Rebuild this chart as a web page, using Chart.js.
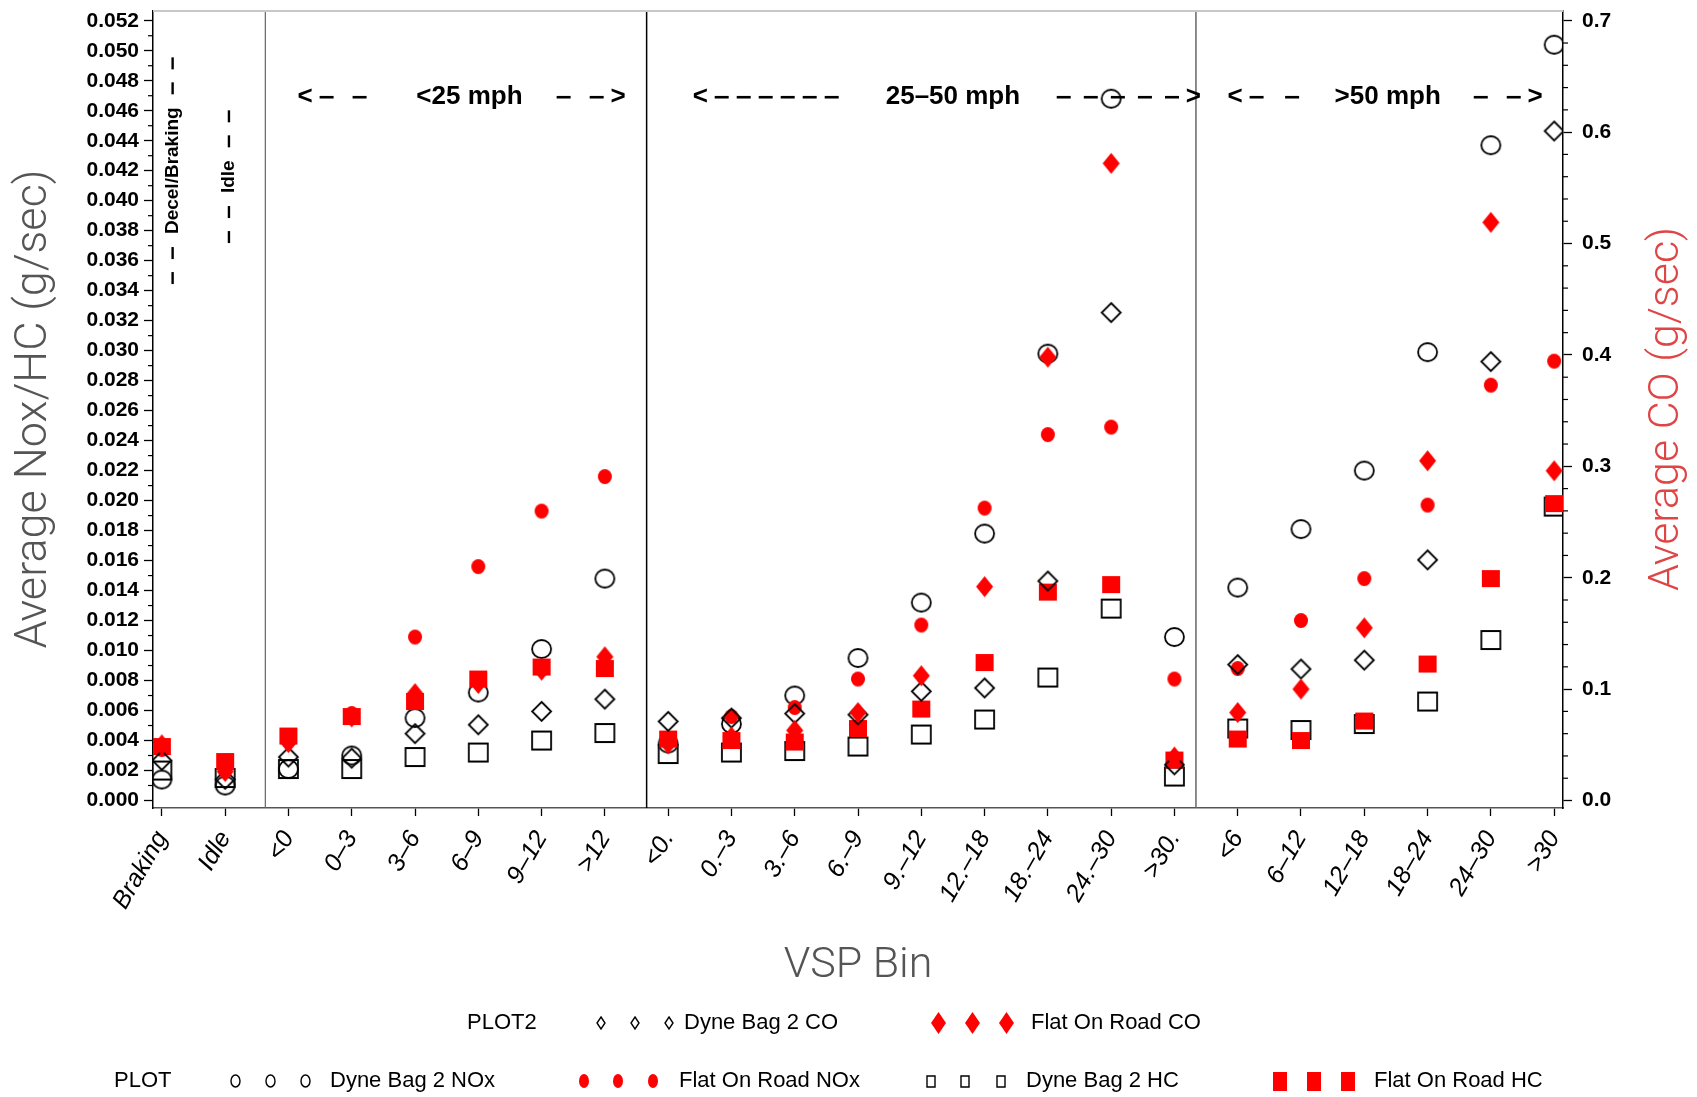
<!DOCTYPE html>
<html>
<head>
<meta charset="utf-8">
<title>VSP Bin emissions</title>
<script src="https://cdn.jsdelivr.net/npm/chart.js"></script>
<style>
  body{margin:0;background:#fff;}
  #wrap{width:1697px;height:1097px;}
</style>
</head>
<body>
<div id="wrap"><canvas id="chart" width="1697" height="1097"></canvas></div>
<script>

// =====================
// DATA
// =====================

const bins = ["Braking","Idle","<0","0–3","3–6","6–9","9–12",">12",
  "<0.","0.–3","3.–6","6.–9","9.–12","12.–18","18.–24","24.–30",">30.",
  "<6","6–12","12–18","18–24","24–30",">30"];

// g/sec, left axis
const dyneNOx = [0.0014,0.0010,0.0021,0.0030,0.0055,0.0072,0.0101,0.0148,
  0.0038,0.0051,0.0070,0.0095,0.0132,0.0178,0.0298,0.0468,0.0109,
  0.0142,0.0181,0.0220,0.0299,0.0437,0.0504];
const flatNOx = [0.0034,0.0020,0.0040,0.0058,0.0109,0.0156,0.0193,0.0216,
  0.0040,0.0056,0.0062,0.0081,0.0117,0.0195,0.0244,0.0249,0.0081,
  0.0088,0.0120,0.0148,0.0197,0.0277,0.0293];
const dyneHC = [0.0020,0.0015,0.0021,0.0021,0.0029,0.0032,0.0040,0.0045,
  0.0031,0.0032,0.0033,0.0036,0.0044,0.0054,0.0082,0.0128,0.0016,
  0.0048,0.0047,0.0051,0.0066,0.0107,0.0196];
const flatHC = [0.0036,0.0026,0.0043,0.0056,0.0066,0.0081,0.0089,0.0088,
  0.0041,0.0040,0.0039,0.0048,0.0061,0.0092,0.0139,0.0144,0.0027,
  0.0041,0.0040,0.0053,0.0091,0.0148,0.0198];

// g/sec, right axis
const dyneCO = [0.036,0.019,0.039,0.038,0.060,0.068,0.080,0.091,
  0.071,0.074,0.078,0.077,0.098,0.101,0.197,0.438,0.032,
  0.122,0.118,0.126,0.216,0.394,0.601];
const flatCO = [0.050,0.026,0.052,0.075,0.096,0.105,0.117,0.129,
  0.051,0.057,0.063,0.079,0.112,0.192,0.398,0.572,0.039,
  0.079,0.100,0.155,0.305,0.519,0.296];

const leftTicks = [0.000,0.002,0.004,0.006,0.008,0.010,0.012,0.014,0.016,0.018,
  0.020,0.022,0.024,0.026,0.028,0.030,0.032,0.034,0.036,0.038,0.040,0.042,
  0.044,0.046,0.048,0.050,0.052];
const rightTicks = [0.0,0.1,0.2,0.3,0.4,0.5,0.6,0.7];


// =====================
// STYLE
// =====================

const FONT = "'Liberation Sans', Arial, Helvetica, sans-serif";
const THIN = "Roboto, 'Liberation Sans', sans-serif";
const RED = "#ff0000";

function marker(shape, w, h, fill, stroke, lw){
  let c = document.createElement("canvas");
  c.width = Math.ceil(w + 4);
  c.height = Math.ceil(h + 4);
  let g = c.getContext("2d");
  let cx = c.width/2, cy = c.height/2, rx = w/2, ry = h/2;
  g.beginPath();
  if(shape==="circle"){
    g.ellipse(cx,cy,rx,ry,0,0,Math.PI*2);
  } else if(shape==="diamond"){
    g.moveTo(cx,cy-ry); g.lineTo(cx+rx,cy); g.lineTo(cx,cy+ry); g.lineTo(cx-rx,cy); g.closePath();
  } else {
    g.rect(cx-rx,cy-ry,w,h);
  }
  if(fill){ g.fillStyle = fill; g.fill(); }
  if(stroke){ g.strokeStyle = stroke; g.lineWidth = lw; g.stroke(); }
  return c;
}

// drawn bottom to top: NOx/HC first, CO last
const series = [
  {label:"Dyne Bag 2 NOx",   values:dyneNOx, axis:"y",
   mark:marker("circle",19,18,null,"#000",1.8),  key:marker("circle",9,12,null,"#000",1.4)},
  {label:"Flat On Road NOx", values:flatNOx, axis:"y",
   mark:marker("circle",14,15,RED,null,0),       key:marker("circle",10,14,RED,null,0)},
  {label:"Dyne Bag 2 HC",    values:dyneHC,  axis:"y",
   mark:marker("square",19,18,null,"#000",1.8),  key:marker("square",8,11,null,"#000",1.4)},
  {label:"Flat On Road HC",  values:flatHC,  axis:"y",
   mark:marker("square",18,17,RED,null,0),       key:marker("square",14,19,RED,null,0)},
  {label:"Dyne Bag 2 CO",    values:dyneCO,  axis:"y2",
   mark:marker("diamond",19,19,null,"#000",1.8), key:marker("diamond",8,12,null,"#000",1.4)},
  {label:"Flat On Road CO",  values:flatCO,  axis:"y2",
   mark:marker("diamond",17,21,RED,null,0),      key:marker("diamond",15,22,RED,null,0)}
];


// =====================
// DECORATION
// =====================

// region separators, in bin units
const separators = [
  {at:1.635, color:"#666", width:1.2},
  {at:7.66,  color:"#000", width:1.5},
  {at:16.34, color:"#666", width:1.5}
];

// speed range headers: arrows [from, to, dashes] and label centre, in bin units
const speedHeads = [
  {label:"<25 mph",   at:4.86,  left:[2.145,3.235,2],  right:[6.238,7.329,2]},
  {label:"25–50 mph", at:12.50, left:[8.388,10.695,6], right:[14.14,16.42,5]},
  {label:">50 mph",   at:19.37, left:[16.84,17.97,2],  right:[20.73,21.82,2]}
];
const headLevel = 0.0469;

// vertical notes over the first two bins
const sideNotes = [
  {text:"Decel/Braking", at:0.17, level:0.0420},
  {text:"Idle",          at:1.06, level:0.0416}
];

const legendRows = [
  {y:1023, head:"PLOT2", headX:467, items:[
    {s:4, marks:[601,635,669], textX:684},
    {s:5, marks:[938,972,1006], textX:1031}
  ]},
  {y:1081, head:"PLOT", headX:114, items:[
    {s:0, marks:[235,270,305], textX:330},
    {s:1, marks:[584,618,653], textX:679},
    {s:2, marks:[931,965,1001], textX:1026},
    {s:3, marks:[1280,1314,1348], textX:1374}
  ]}
];

const decor = {
  id:"decor",

  beforeDatasetsDraw(chart){
    let ctx = chart.ctx, a = chart.chartArea, x = chart.scales.x;
    ctx.save();
    separators.forEach(s => {
      let px = x.getPixelForValue(s.at);
      ctx.strokeStyle = s.color; ctx.lineWidth = s.width;
      ctx.beginPath(); ctx.moveTo(px,a.top); ctx.lineTo(px,a.bottom); ctx.stroke();
    });
    ctx.strokeStyle = "#c8c8c8"; ctx.lineWidth = 2;
    ctx.beginPath(); ctx.moveTo(a.left,a.top); ctx.lineTo(a.right,a.top); ctx.stroke();

    // headers
    let y = chart.scales.y.getPixelForValue(headLevel);
    ctx.fillStyle = "#000"; ctx.strokeStyle = "#000"; ctx.lineWidth = 2.6;
    ctx.font = "bold 26px " + FONT;
    ctx.textBaseline = "middle";
    speedHeads.forEach(h => {
      ctx.textAlign = "center";
      ctx.fillText(h.label, x.getPixelForValue(h.at), y);
      let l0 = x.getPixelForValue(h.left[0]), l1 = x.getPixelForValue(h.left[1]);
      ctx.textAlign = "left";  ctx.fillText("<", l0, y);
      dashes(ctx, l0 + 22, l1, h.left[2], y, 14);
      let r0 = x.getPixelForValue(h.right[0]), r1 = x.getPixelForValue(h.right[1]);
      ctx.textAlign = "right"; ctx.fillText(">", r1, y);
      dashes(ctx, r0, r1 - 22, h.right[2], y, 14);
    });

    ctx.font = "bold 19px " + FONT;
    ctx.textAlign = "center";
    ctx.lineWidth = 2.4;
    sideNotes.forEach(n => {
      ctx.save();
      ctx.translate(x.getPixelForValue(n.at), chart.scales.y.getPixelForValue(n.level));
      ctx.rotate(-Math.PI/2);
      ctx.fillText(n.text, 0, 0);
      let half = ctx.measureText(n.text).width/2;
      dashes(ctx, -half - 50, -half - 13, 2, 0, 12);
      dashes(ctx, half + 13, half + 50, 2, 0, 12);
      ctx.restore();
    });
    ctx.restore();
  },

  afterDraw(chart){
    let ctx = chart.ctx, a = chart.chartArea;
    let y = chart.scales.y, y2 = chart.scales.y2;
    ctx.save();

    // minor ticks
    ctx.strokeStyle = "#000"; ctx.lineWidth = 1.2;
    for(let k = 1; k < 53; k += 2){
      let py = y.getPixelForValue(k/1000);
      ctx.beginPath(); ctx.moveTo(a.left-5,py); ctx.lineTo(a.left,py); ctx.stroke();
    }
    for(let k = 1; k < 35; k++){
      if(k % 5 === 0) continue;
      let py = y2.getPixelForValue(k/50);
      ctx.beginPath(); ctx.moveTo(a.right,py); ctx.lineTo(a.right+5,py); ctx.stroke();
    }

    // axis titles
    ctx.textAlign = "center"; ctx.textBaseline = "middle";
    ctx.font = "300 45px " + THIN;
    ctx.fillStyle = "#555";
    ctx.save(); ctx.translate(35,409); ctx.rotate(-Math.PI/2);
    ctx.fillText("Average Nox/HC (g/sec)",0,0); ctx.restore();
    ctx.font = "300 43px " + THIN;
    ctx.fillStyle = "#e04545";
    ctx.save(); ctx.translate(1667,409); ctx.rotate(-Math.PI/2);
    ctx.fillText("Average CO (g/sec)",0,0); ctx.restore();
    ctx.fillStyle = "#555";
    ctx.fillText("VSP Bin",858,966);

    // legend
    ctx.fillStyle = "#000";
    ctx.font = "22px " + FONT;
    ctx.textAlign = "left";
    legendRows.forEach(r => {
      ctx.fillText(r.head, r.headX, r.y);
      r.items.forEach(it => {
        let k = series[it.s].key;
        it.marks.forEach(mx => ctx.drawImage(k, Math.round(mx - k.width/2), Math.round(r.y - k.height/2)));
        ctx.fillText(series[it.s].label, it.textX, r.y);
      });
    });
    ctx.restore();
  }
};

function dashes(ctx, from, to, n, y, len){
  let step = n > 1 ? (to - from - len)/(n - 1) : 0;
  for(let i = 0; i < n; i++){
    let s = from + i*step;
    ctx.beginPath(); ctx.moveTo(s,y); ctx.lineTo(s+len,y); ctx.stroke();
  }
}

// keep the plot frame where the axes are fixed, without label overhang padding
function noPad(s){
  s.paddingTop = 0; s.paddingBottom = 0; s.paddingLeft = 0; s.paddingRight = 0;
}


// =====================
// CHART
// =====================

const tickFont = {family:FONT, size:21, weight:"bold"};

new Chart(document.getElementById("chart"), {
  type:"scatter",
  data:{
    datasets: series.map((s,i) => ({
      label:s.label,
      data:s.values.map((v,j) => ({x:j, y:v})),
      yAxisID:s.axis,
      pointStyle:s.mark,
      pointRadius:10,
      showLine:false,
      order:series.length - i
    }))
  },
  options:{
    responsive:false,
    animation:false,
    events:[],
    layout:{padding:{top:5,left:0,right:0,bottom:0}},
    plugins:{legend:{display:false}, tooltip:{enabled:false}},
    scales:{
      x:{
        type:"linear", min:-0.14, max:22.14,
        afterBuildTicks: s => { s.ticks = bins.map((b,i) => ({value:i})); },
        afterFit: s => { s.height = 289; noPad(s); },
        grid:{drawOnChartArea:false, tickLength:8, tickColor:"#000", tickWidth:1.3},
        border:{color:"#555", width:1.5},
        ticks:{autoSkip:false, minRotation:60, maxRotation:60, padding:10, color:"#000",
          font:{family:FONT, size:25, style:"italic"},
          callback: v => bins[v]}
      },
      y:{
        position:"left", min:-0.0005, max:0.05265,
        afterBuildTicks: s => { s.ticks = leftTicks.map(v => ({value:v})); },
        afterFit: s => { s.width = 153; noPad(s); },
        grid:{drawOnChartArea:false, tickLength:9, tickColor:"#000", tickWidth:1.3},
        border:{color:"#000", width:1.5},
        ticks:{padding:5, color:"#000", font:tickFont, callback: v => v.toFixed(3)}
      },
      y2:{
        position:"right", min:-0.00673, max:0.70875,
        afterBuildTicks: s => { s.ticks = rightTicks.map(v => ({value:v})); },
        afterFit: s => { s.width = 134; noPad(s); },
        grid:{drawOnChartArea:false, tickLength:9, tickColor:"#000", tickWidth:1.3},
        border:{color:"#000", width:1.5},
        ticks:{padding:10, color:"#000", font:tickFont, callback: v => v.toFixed(1)}
      }
    }
  },
  plugins:[decor]
});
</script>
</body>
</html>
